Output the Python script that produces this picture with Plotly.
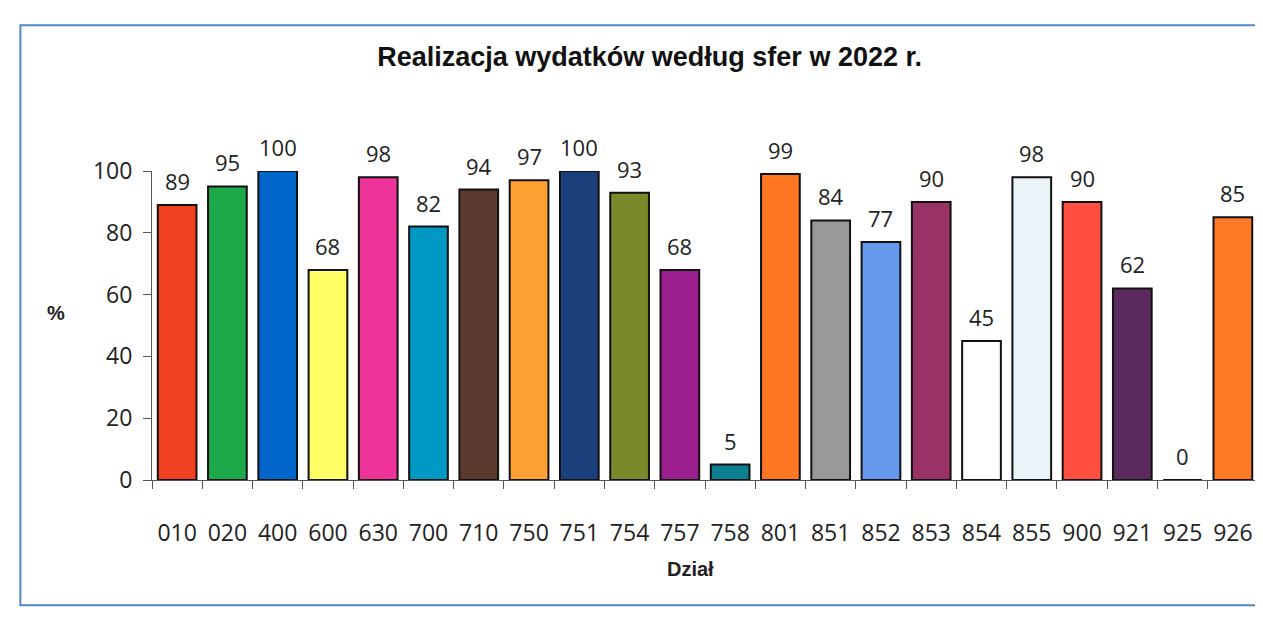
import plotly.graph_objects as go

categories = ["010", "020", "400", "600", "630", "700", "710", "750", "751", "754", "757",
              "758", "801", "851", "852", "853", "854", "855", "900", "921", "925", "926"]
values = [89, 95, 100, 68, 98, 82, 94, 97, 100, 93, 68, 5, 99, 84, 77, 90, 45, 98, 90, 62, 0, 85]
colors = ["#F04020", "#1DA84A", "#0066CC", "#FFFF66", "#EE3399", "#0099C4", "#5A3A2E",
          "#FFA033", "#1A3F7A", "#7A8A2A", "#9A1E8E", "#0D7E90", "#FF7722", "#999999",
          "#6699EE", "#993366", "#FFFFFF", "#EAF4F8", "#FF4F40", "#5A2A5E", "#FFFFFF", "#FF7A25"]

title_text = "Realizacja wydatków według sfer w 2022 r."
x_title = "Dział"
y_title = "%"

fig = go.Figure(go.Bar(
    x=categories, y=values,
    marker=dict(color=colors, line=dict(color="#111111", width=2)),
    cliponaxis=False,
))

value_labels = [dict(x=i, y=v, xref="x", yref="y", text=str(v), showarrow=False,
                     yanchor="bottom", yshift=7,
                     font=dict(family="Open Sans", size=22, color="#222222"))
                for i, v in enumerate(values)]

fig.update_layout(
    width=1263, height=620,
    paper_bgcolor="white", plot_bgcolor="white",
    margin=dict(l=144, r=13, t=163, b=148),
    bargap=0.23,
    showlegend=False,
    title=dict(text=title_text, x=0.508, xanchor="center", y=0.921, yanchor="middle",
               font=dict(family="Liberation Sans", size=27, color="#111111", weight="bold")),
    xaxis=dict(type="category", categoryorder="array", categoryarray=categories,
               range=[-0.5, len(categories) - 0.5],
               showline=True, linecolor="#555555", linewidth=1,
               ticks="outside", ticklen=8, tickcolor="#555555", tickson="boundaries",
               ticklabelstandoff=32, tickangle=0,
               tickfont=dict(family="Open Sans", size=23, color="#222222"),
               showgrid=False),
    yaxis=dict(range=[0, 100], tickvals=[0, 20, 40, 60, 80, 100], showline=True,
               linecolor="#555555", linewidth=1, ticks="outside", ticklen=8,
               tickcolor="#555555", showgrid=False, zeroline=False,
               ticklabelstandoff=6,
               tickfont=dict(family="Open Sans", size=23, color="#222222")),
    annotations=value_labels + [
        dict(text="<b>%s</b>" % x_title, xref="paper", yref="paper", x=0.487, y=-0.33,
             showarrow=False, font=dict(family="Liberation Sans", size=20, color="#222222")),
        dict(text="<b>%s</b>" % y_title, xref="paper", yref="paper", x=-0.097, y=0.54,
             showarrow=False, font=dict(family="Liberation Sans", size=20, color="#222222")),
    ],
    shapes=[dict(type="rect", xref="paper", yref="paper", x0=-0.119, x1=1.002,
                 y0=-0.405, y1=1.472,
                 line=dict(color="#4F86C6", width=2))],
)

fig.write_html("out.html")
